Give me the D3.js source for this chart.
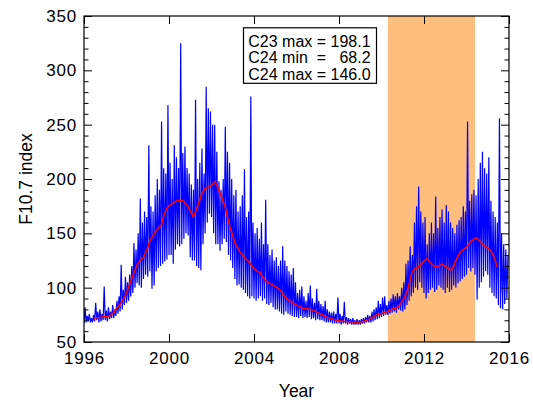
<!DOCTYPE html>
<html><head><meta charset="utf-8">
<script src="https://cdn.jsdelivr.net/npm/d3@7"></script>
<style>
body{margin:0;background:#fff}
svg{display:block}
text{font-family:"Liberation Sans",Arial,Helvetica,sans-serif;fill:#000}
</style>
</head><body>
<svg id="chart" width="533" height="401"></svg>
<script>
// ---- data ----
const startYear = 1996;
const sampleStep = 0.1; // years between samples
// daily F10.7 envelope: low and high value within each 0.1-year bin
const dailyLow = [
  67,68,69,68,68,69,70,68,69,70,
  70,69,71,72,72,74,76,78,80,84,
  86,88,92,95,100,104,102,100,108,112,
  110,115,99,102,115,118,120,122,124,126,
  130,130,122,135,140,138,140,145,150,148,
  128,125,125,120,118,116,140,150,160,168,
  165,150,140,140,134,140,145,142,130,125,
  118,108,102,103,100,98,95,92,90,92,
  90,88,90,92,88,90,85,84,86,82,
  80,80,78,76,75,78,76,75,74,73,
  73,72,74,72,73,72,73,71,72,70,
  71,70,70,69,68,68,68,67,67,67,
  67,66,67,67,66,67,66,66,66,66,
  66,67,67,68,68,68,69,70,71,72,
  73,74,75,75,76,77,78,77,80,79,
  78,80,84,88,92,95,100,98,105,100,
  95,90,95,98,100,96,98,102,100,98,
  95,100,96,98,102,100,104,106,108,110,
  112,118,115,118,112,89,100,105,110,115,
  112,100,95,92,90,84,81,80,85,90
];
const dailyHigh = [
  82,74,76,72,75,86,78,80,76,101,
  79,82,78,84,80,88,92,121,98,110,
  105,112,120,141,135,150,182,160,170,165,
  231,175,170,185,200,190,253,210,205,268,
  215,200,231,220,210,325,224,230,210,205,
  195,190,273,200,215,228,205,285,265,262,
  250,250,225,198,190,200,248,225,215,200,
  185,190,170,175,185,209,165,170,276,160,
  150,155,145,160,140,181,140,130,135,125,
  128,120,125,138,125,120,115,112,118,105,
  95,98,101,92,88,95,102,90,86,99,
  88,85,83,88,80,78,77,78,76,91,
  76,74,87,73,72,71,72,70,71,70,
  71,72,73,75,74,78,80,82,88,85,
  91,92,84,88,90,94,92,95,92,100,
  105,122,125,138,130,160,175,193,170,160,
  165,140,150,160,150,184,155,165,172,160,
  176,170,160,155,150,158,162,165,175,170,
  253,180,186,190,185,200,215,225,210,205,
  220,180,170,165,160,256,150,140,135,130
];
// smoothed (13-month running mean) curve
const smoothYears = [
  1996.45,1996.7,1997.0,1997.2,1997.4,1997.57,1997.75,1997.9,1998.05,1998.2,
  1998.35,1998.5,1998.65,1998.8,1999.0,1999.1,1999.25,1999.42,1999.55,1999.65,
  1999.75,1999.89,2000.05,2000.2,2000.36,2000.5,2000.67,2000.8,2000.91,2001.05,
  2001.14,2001.25,2001.38,2001.55,2001.69,2001.85,2001.93,2002.05,2002.16,2002.28,
  2002.4,2002.52,2002.64,2002.75,2002.87,2003.0,2003.1,2003.22,2003.34,2003.45,
  2003.58,2003.7,2003.81,2003.93,2004.05,2004.17,2004.28,2004.4,2004.52,2004.63,
  2004.75,2004.87,2004.99,2005.1,2005.22,2005.34,2005.46,2005.6,2005.75,2005.9,
  2006.05,2006.3,2006.5,2006.76,2007.0,2007.23,2007.4,2007.55,2007.8,2008.0,
  2008.25,2008.5,2008.8,2009.1,2009.3,2009.43,2009.6,2009.74,2009.9,2010.05,
  2010.2,2010.37,2010.55,2010.68,2010.8,2010.92,2011.05,2011.2,2011.32,2011.44,
  2011.55,2011.67,2011.8,2011.91,2012.03,2012.14,2012.26,2012.38,2012.5,2012.61,
  2012.73,2012.85,2012.97,2013.08,2013.2,2013.29,2013.38,2013.47,2013.6,2013.71,
  2013.83,2013.95,2014.07,2014.18,2014.3,2014.45,2014.55,2014.65,2014.77,2014.89,
  2015.0,2015.12,2015.25,2015.35,2015.44
];
const smoothValues = [
  71.8,72.5,73.5,74,77,82,86,91,98,106,
  114,121,125.5,128,137,143,148,153,156,158,
  166,173,176,178,180,180.5,180,177,174,169,
  165,170,177,187,191,192.5,193.5,195,197.8,193,
  187,181,174.5,165,156,148,141,137,133,130,
  127,125,122.5,119,116.5,115,114,110,107,105,
  104,102.5,101,100,97.8,94.5,91.7,89,87,85,
  83.5,81,80.5,79.5,77,75,73,72,70.5,69.6,
  69,68.7,68.2,68.6,70,71,73,74.8,75.8,76.4,
  77.5,79,80.5,81,83,86,90,96.3,105,114.7,
  117,118,120,122.4,125,127,124,121,119.5,119.3,
  120.5,121,120,118.7,117,116.3,119,124,129,133,
  135,136.2,139,142.3,144,146,144.5,142.3,140,137.7,
  136.5,134.7,130,125,119.3
];
const xTickValues = [1996,2000,2004,2008,2012,2016];
const yTickValues = [50,100,150,200,250,300,350];
const yMinorValues = d3.range(60,350,10).filter(v => v % 50 !== 0);
const shadedSpan = [2010.3, 2014.4];
const legendLines = ["C23 max = 198.1","C24 min  =   68.2","C24 max = 146.0"];
const xTitle = "Year";
const yTitle = "F10.7 index";

// ---- drawing ----
const svg = d3.select("#chart");
const L = 84, R = 509, T = 16, B = 342;
const x = d3.scaleLinear().domain([1996,2016]).range([L,R]);
const y = d3.scaleLinear().domain([50,350]).range([B,T]);

svg.append("defs").append("clipPath").attr("id","plotclip")
  .append("rect").attr("x",L).attr("y",T).attr("width",R-L).attr("height",B-T);

svg.append("rect")
  .attr("x", x(shadedSpan[0])).attr("y", T)
  .attr("width", x(shadedSpan[1]) - x(shadedSpan[0])).attr("height", B - T)
  .attr("fill", "#FEBE7D");

const daily = [];
dailyLow.forEach((lo, i) => {
  const t = startYear + i * sampleStep;
  daily.push([t, lo]);
  daily.push([t + sampleStep / 2, dailyHigh[i]]);
});

const g = svg.append("g").attr("clip-path","url(#plotclip)");
g.append("path").datum(daily)
  .attr("d", d3.line().x(d => x(d[0])).y(d => y(d[1])))
  .attr("fill","none").attr("stroke","#0000FF").attr("stroke-width",1.2);

g.append("path").datum(smoothYears.map((t,i)=>[t, smoothValues[i]]))
  .attr("d", d3.line().x(d => x(d[0])).y(d => y(d[1])))
  .attr("fill","none").attr("stroke","#FF0000").attr("stroke-width",1.6)
  .attr("stroke-linejoin","round");

function styleAxis(sel){
  sel.select(".domain").remove();
  sel.selectAll(".tick line").attr("stroke","#000").attr("stroke-width",1);
  sel.selectAll("text").attr("font-size","17px").attr("letter-spacing","0.8px").attr("fill","#000");
}
svg.append("g").attr("transform",`translate(0,${B})`)
  .call(d3.axisBottom(x).tickValues(xTickValues).tickFormat(d3.format("d")).tickSizeInner(-8).tickSizeOuter(0).tickPadding(9.5))
  .call(styleAxis);
svg.append("g").attr("transform",`translate(0,${T})`)
  .call(d3.axisTop(x).tickValues(xTickValues).tickFormat("").tickSizeInner(-8).tickSizeOuter(0))
  .call(styleAxis);
svg.append("g").attr("transform",`translate(${L},0)`)
  .call(d3.axisLeft(y).tickValues(yTickValues).tickSizeInner(-8).tickSizeOuter(0).tickPadding(7))
  .call(styleAxis);
svg.append("g").attr("transform",`translate(${L},0)`)
  .call(d3.axisLeft(y).tickValues(yMinorValues).tickFormat("").tickSizeInner(-4.5).tickSizeOuter(0))
  .call(styleAxis);
svg.append("g").attr("transform",`translate(${R},0)`)
  .call(d3.axisRight(y).tickValues(yTickValues).tickFormat("").tickSizeInner(-8).tickSizeOuter(0))
  .call(styleAxis);
svg.append("g").attr("transform",`translate(${R},0)`)
  .call(d3.axisRight(y).tickValues(yMinorValues).tickFormat("").tickSizeInner(-4.5).tickSizeOuter(0))
  .call(styleAxis);

svg.append("rect").attr("x",L).attr("y",T).attr("width",R-L).attr("height",B-T)
  .attr("fill","none").attr("stroke","#000").attr("stroke-width",1.2);

svg.append("text").attr("x",(L+R)/2).attr("y",396.5).attr("text-anchor","middle")
  .attr("font-size","17.5px").text(xTitle);
svg.append("text").attr("transform",`translate(31.5,${(T+B)/2}) rotate(-90)`)
  .attr("text-anchor","middle").attr("font-size","17.5px").text(yTitle);

// legend box
const lg = svg.append("g");
lg.append("rect").attr("x",243.5).attr("y",27.8).attr("width",133).attr("height",55.5)
  .attr("fill","#fff").attr("stroke","#000").attr("stroke-width",1.2);
legendLines.forEach((s,i)=>{
  lg.append("text").attr("x",248.3).attr("y",46.6 + i*16.7)
    .attr("font-size","16px").style("white-space","pre").text(s);
});
</script>
</body></html>
